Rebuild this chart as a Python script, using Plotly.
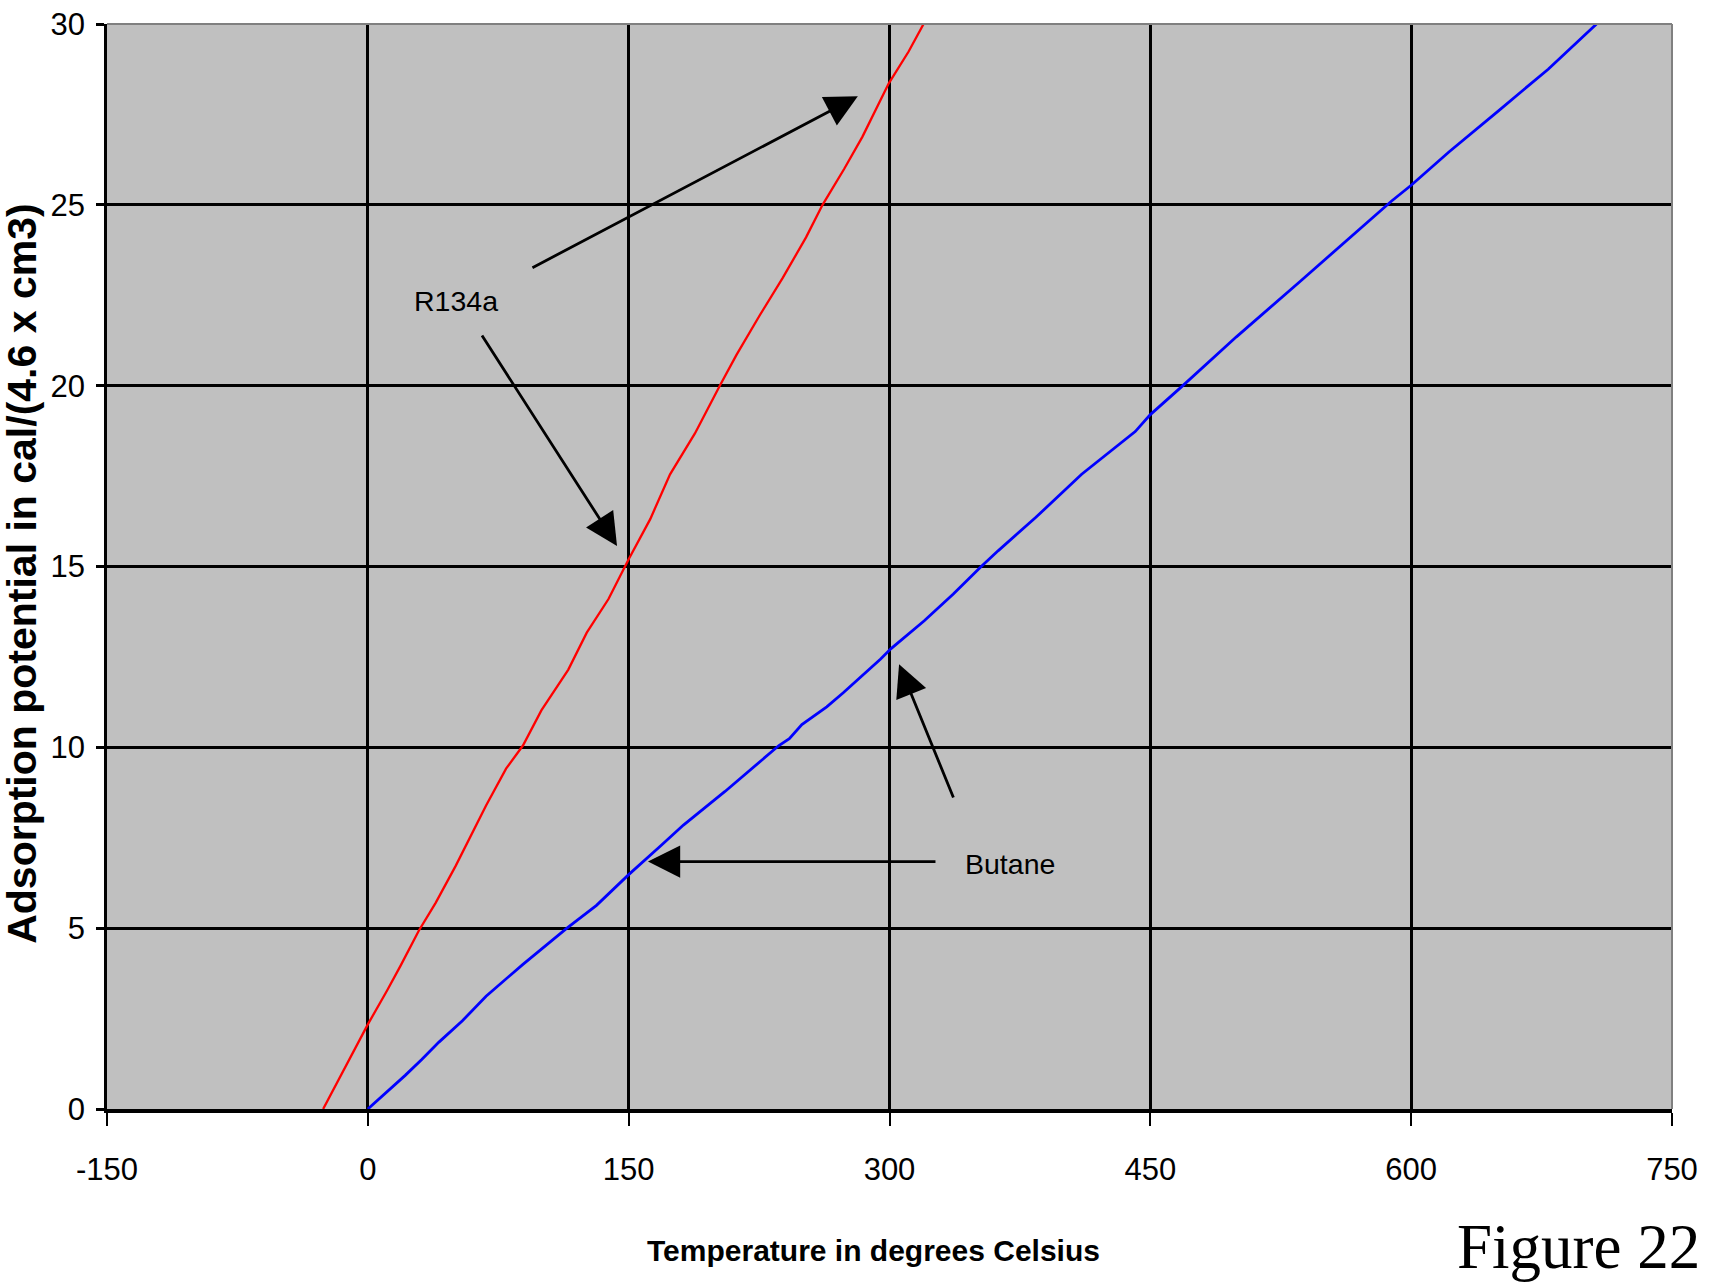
import plotly.graph_objects as go

# ---- data ----
r134a_temp = [-25.7, 0, 11, 18.7, 29.3, 39, 50.6, 61.2, 68, 79.5, 89.2, 99.8, 115.3, 125.9,
              138.4, 150, 162.4, 173.8, 188.1, 202.4, 212, 225.3, 238.6, 252, 261.5, 273.9,
              284.4, 299.6, 311, 319.6]
r134a_pot = [0, 2.34, 3.27, 3.95, 4.93, 5.7, 6.73, 7.76, 8.39, 9.41, 10.05, 11.02, 12.15, 13.17,
             14.1, 15.2, 16.31, 17.55, 18.68, 20, 20.85, 21.94, 22.98, 24.1, 25, 25.99,
             26.88, 28.36, 29.24, 30.0]

butane_temp = [0, 21.5, 31, 40.9, 54.4, 68, 89.2, 114.5, 131.5, 150, 168.3, 181.5, 205.4, 236.4,
               242.4, 249.6, 263.9, 273.4, 294.9, 300.9, 320, 336.7, 352.3, 362.6, 384.2, 410.5,
               441.3, 450, 468.7, 499.5, 536.1, 561.2, 588.6, 600, 621.7, 650.2, 678.8, 706.6]
butane_pot = [0, 0.93, 1.37, 1.85, 2.44, 3.12, 4.0, 5.0, 5.63, 6.48, 7.27, 7.85, 8.78, 10.05,
              10.24, 10.63, 11.12, 11.51, 12.44, 12.73, 13.5, 14.24, 14.98, 15.44, 16.36, 17.55,
              18.73, 19.2, 20, 21.35, 22.88, 23.94, 25.1, 25.54, 26.46, 27.6, 28.75, 30.0]

x_ticks = [-150, 0, 150, 300, 450, 600, 750]
y_ticks = [0, 5, 10, 15, 20, 25, 30]

x_title = "Temperature in degrees Celsius"
y_title = "Adsorption potential in cal/(4.6 x cm3)"
figure_label = "Figure 22"

SANS = "Liberation Sans, Arial, sans-serif"
SERIF = "Liberation Serif, Times New Roman, serif"

fig = go.Figure()
fig.add_trace(go.Scatter(x=r134a_temp, y=r134a_pot, mode="lines", name="R134a",
                         line=dict(color="#FF0000", width=2.3)))
fig.add_trace(go.Scatter(x=butane_temp, y=butane_pot, mode="lines", name="Butane",
                         line=dict(color="#0000FF", width=2.8)))

axis_common = dict(showgrid=True, gridcolor="black", gridwidth=2.5, zeroline=False,
                   showline=True, linecolor="black", ticks="outside", tickcolor="black",
                   automargin=False,
                   tickfont=dict(family=SANS, size=31, color="black"))

fig.update_xaxes(range=[-150, 750], tickvals=x_ticks, ticktext=[str(v) for v in x_ticks],
                 linewidth=4, ticklen=13, tickwidth=2, ticklabelstandoff=17, **axis_common)
fig.update_yaxes(range=[0, 30], tickvals=y_ticks, ticktext=[str(v) for v in y_ticks],
                 linewidth=2.5, ticklen=8, tickwidth=3, ticklabelstandoff=5, **axis_common)

arrow_style = dict(showarrow=True, arrowhead=2, arrowsize=2.3, arrowwidth=2.8,
                   arrowcolor="black", axref="x", ayref="y", text="")
annotations = [
    dict(x=281.8, y=28.0, ax=93.8, ay=23.24, **arrow_style),
    dict(x=143.3, y=15.57, ax=65.1, ay=21.43, **arrow_style),
    dict(x=305.5, y=12.30, ax=337.1, ay=8.57, **arrow_style),
    dict(x=161.1, y=6.84, ax=327.3, ay=6.84, **arrow_style),
    dict(x=25.4, y=22.34, text="R134a", showarrow=False, xanchor="left", yanchor="middle",
         font=dict(family=SANS, size=28.5, color="black")),
    dict(x=342.1, y=6.77, text="Butane", showarrow=False, xanchor="left", yanchor="middle",
         font=dict(family=SANS, size=28.5, color="black")),
    dict(x=0.4898, y=-0.13, xref="paper", yref="paper", text="<b>" + x_title + "</b>",
         showarrow=False, xanchor="center", yanchor="middle",
         font=dict(family=SANS, size=30, color="black")),
    dict(x=-0.0545, y=0.493, xref="paper", yref="paper", text="<b>" + y_title + "</b>",
         showarrow=False, xanchor="center", yanchor="middle", textangle=-90,
         font=dict(family=SANS, size=41, color="black")),
    dict(x=0.8613, y=-0.127, xref="paper", yref="paper", text=figure_label,
         showarrow=False, xanchor="left", yanchor="middle",
         font=dict(family=SERIF, size=63, color="black")),
]

shapes = [
    dict(type="line", xref="paper", yref="paper", x0=0, x1=1, y0=1, y1=1,
         line=dict(color="#808080", width=2), layer="above"),
    dict(type="line", xref="paper", yref="paper", x0=1, x1=1, y0=0, y1=1,
         line=dict(color="#808080", width=2), layer="above"),
]

fig.update_layout(width=1710, height=1283, margin=dict(l=107, r=38, t=24, b=174),
                  plot_bgcolor="#C0C0C0", paper_bgcolor="white", showlegend=False,
                  annotations=annotations, shapes=shapes)

fig.write_html("out.html")
